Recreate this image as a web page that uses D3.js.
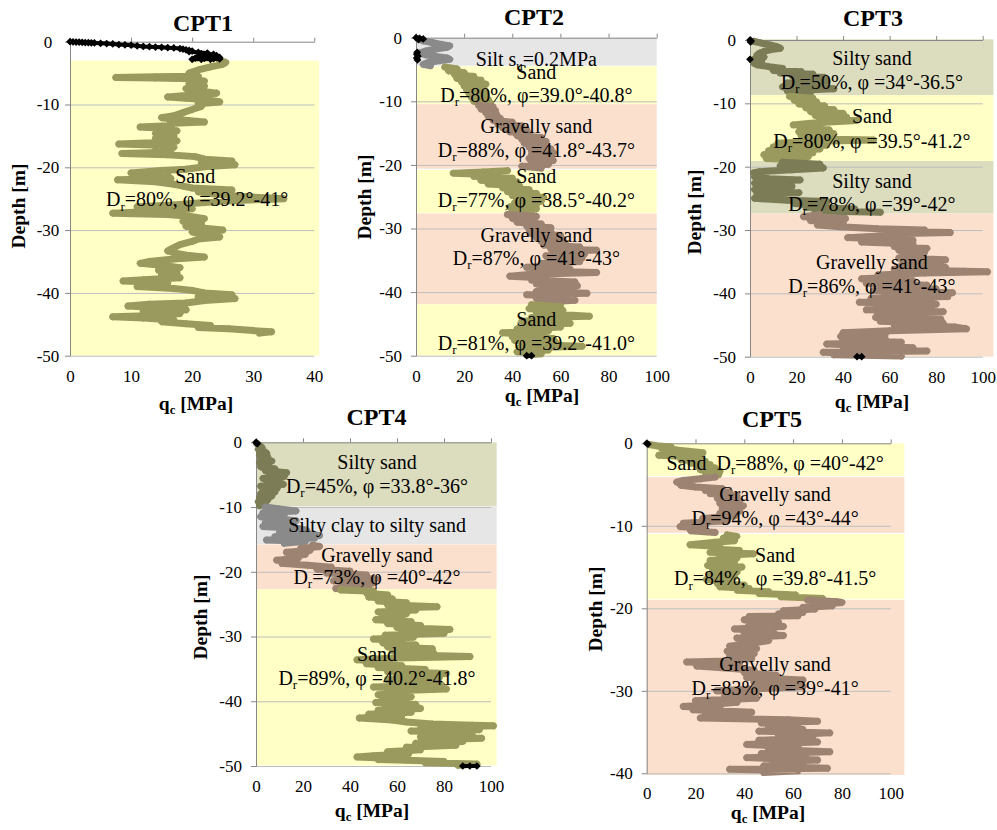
<!DOCTYPE html>
<html><head><meta charset="utf-8">
<script src="https://cdn.jsdelivr.net/npm/d3@7"></script>
<style>
body{margin:0;background:#fff}
svg text{font-family:"Liberation Serif","Times New Roman",serif;white-space:pre}
</style></head><body>
<svg id="chart" width="997" height="830"></svg>
<script>
// ---------- DATA: [depth (m), qc (MPa)] ----------
const cpt1Black = [[0,0],[-0.03,0.5],[-0.05,1],[-0.08,1.5],[-0.1,2],[-0.13,2.5],[-0.15,3],[-0.18,3.5],[-0.2,4],[-0.25,5],[-0.3,6],[-0.35,7],[-0.45,8],[-0.5,9],[-0.55,10],[-0.65,11],[-0.75,12],[-0.8,13],[-0.85,14],[-0.9,15],[-0.95,16],[-1.0,17],[-1.1,18],[-1.2,18.5],[-1.3,19],[-1.4,19.5],[-1.5,20],[-1.6,19.5],[-1.7,21],[-1.8,22.5],[-1.9,21.5],[-2.0,23.5],[-2.1,22],[-2.2,24],[-2.3,21],[-2.4,23],[-2.5,24.5],[-2.6,20.5],[-2.65,22],[-2.7,23.5],[-2.75,24.5],[-2.8,20],[-2.8,21.5],[-2.8,23]];
const cpt1Profile = [[-3.0,24.5],[-3.3,25.5],[-3.6,25],[-4.0,23],[-4.5,21],[-5.0,19.5],[-5.5,21],[-5.6,14],[-5.7,7.5],[-5.8,14],[-5.9,20],[-6.3,22],[-6.7,19.5],[-7.1,22],[-7.5,19],[-7.9,21.5],[-8.2,24],[-8.5,20],[-8.8,16],[-9.0,19],[-9.3,23],[-9.6,24.5],[-9.9,21],[-10.3,21.5],[-10.8,20],[-11.3,18.5],[-11.8,17],[-12.1,15],[-12.4,17.5],[-12.8,22],[-13.0,17],[-13.4,16],[-13.6,11.5],[-13.8,15],[-14.2,17.5],[-14.6,14],[-15.0,17],[-15.4,14],[-15.8,17.5],[-16.1,13.5],[-16.3,8],[-16.5,15],[-16.8,17],[-17.2,14],[-17.6,16.5],[-17.8,8.5],[-18.0,16],[-18.3,20.5],[-18.7,22],[-19.0,26.5],[-19.3,21.5],[-19.6,27],[-19.9,22],[-20.3,19],[-20.5,15],[-20.9,10],[-21.1,16],[-21.4,12],[-21.8,16.5],[-22.0,7.8],[-22.3,14],[-22.7,17],[-23.0,18.5],[-23.3,20],[-23.6,26.5],[-23.9,21],[-24.3,24],[-24.7,29],[-25.0,35],[-25.3,27],[-25.6,22],[-26.0,17],[-26.3,11],[-26.6,20],[-27.0,14],[-27.3,7],[-27.5,16],[-27.8,19.5],[-28.2,22],[-28.6,18.5],[-29.0,21.5],[-29.4,19],[-29.7,22],[-30.0,25],[-30.3,20],[-30.7,22.5],[-31.1,24.5],[-31.4,21],[-31.8,20],[-32.3,18],[-32.8,17],[-33.3,16],[-33.7,17.5],[-34.0,19],[-34.3,22],[-34.6,17],[-35.0,13],[-35.3,11.5],[-35.6,15],[-36.0,18],[-36.4,14.5],[-36.8,17.5],[-37.2,15],[-37.6,18],[-37.9,12],[-38.1,8.7],[-38.4,16],[-38.8,13],[-39.0,11],[-39.3,17],[-39.6,20],[-40.0,22],[-40.3,26.5],[-40.6,21],[-40.9,27],[-41.2,22],[-41.6,19],[-41.8,13],[-42.1,9.5],[-42.4,15],[-42.7,19],[-43.0,12],[-43.3,18],[-43.6,14],[-43.8,7],[-44.0,12],[-44.3,17],[-44.6,15],[-44.9,19],[-45.2,23],[-45.5,21],[-45.7,26],[-46.0,30],[-46.2,33],[-46.4,31]];
const cpt1Layers = [{soil:"sand",top:-3,bottom:-50}];
const cpt1Labels = [{t:"Sand",q:20.5,d:-22.5},{t:"D_{r}=80%, φ =39.2°-41°",q:20.8,d:-26.2}];

const cpt2Black = [[0,0],[-0.1,1.5],[-0.2,3],[-0.3,1],[-2.3,0.5],[-2.6,0.3],[-2.9,0.8],[-3.2,0.3],[-3.5,0.6],[-50,46],[-50,48]];
const cpt2Profile = [[-0.2,1],[-0.5,3],[-0.8,7],[-1.1,11],[-1.3,14],[-1.5,13],[-1.8,8],[-2.1,4],[-2.4,1.5],[-2.7,4],[-3.0,9],[-3.2,13],[-3.4,14],[-3.6,10],[-3.9,5],[-4.2,3],[-4.4,6],
[-4.6,12],[-4.9,17],[-5.2,13.5],[-5.5,20],[-5.8,16],[-6.1,24],[-6.4,17],[-6.7,27],[-7.0,19],[-7.3,29],[-7.6,20],[-7.9,28],[-8.2,21],[-8.5,29],[-8.8,22],[-9.1,29],[-9.4,23],[-9.7,30],[-10.0,24],[-10.3,31],
[-10.6,26],[-10.9,32],[-11.2,27],[-11.5,33],[-11.8,29],[-12.1,33.5],[-12.4,30],[-12.7,35],[-13.0,32],[-13.3,40],[-13.6,34],[-13.9,44],[-14.2,36],[-14.5,46],[-14.8,39],[-15.1,47],[-15.4,42],[-15.7,52],[-16.0,44],[-16.3,54],[-16.6,45],[-16.9,53],[-17.2,47],[-17.5,56],[-17.8,48],[-18.1,57],[-18.4,48],[-18.7,56],[-19.0,47],[-19.3,57],[-19.6,48],[-19.9,55],[-20.2,44],[-20.5,52],
[-20.9,38],[-21.1,28],[-21.3,15.5],[-21.5,30],[-21.8,24],[-22.1,40],[-22.4,27],[-22.7,42],[-23.0,30],[-23.3,43],[-23.6,36],[-23.9,47],[-24.2,38],[-24.5,50],[-24.8,40],[-25.1,53],[-25.4,42],[-25.7,52],[-26.0,41],[-26.3,50],[-26.6,39],[-26.9,50],[-27.2,40],[-27.5,48],
[-27.8,38],[-28.1,50],[-28.4,40],[-28.7,49],[-29.0,42],[-29.3,52],[-29.6,46],[-29.9,56],[-30.2,47],[-30.5,56],[-30.8,48],[-31.1,60],[-31.4,50],[-31.7,61],[-32.0,52],[-32.3,62],[-32.6,53],[-32.9,68],[-33.2,56],[-33.4,75],[-33.7,58],[-34.0,70],[-34.3,54],[-34.6,69],[-34.9,55],[-35.2,68],[-35.5,52],[-35.8,62],[-36.1,46],[-36.4,64],[-36.7,50],[-36.9,75],[-37.2,48],[-37.5,39],[-37.8,54],[-38.1,48],[-38.4,66],[-38.7,50],[-39.0,67],[-39.3,52],[-39.6,65],[-39.9,50],[-40.2,71],[-40.4,46],[-40.7,62],[-41.0,50],[-41.3,66],[-41.6,52],[-41.8,60],
[-42.0,48],[-42.3,60],[-42.6,47],[-42.9,61],[-43.2,50],[-43.5,58],[-43.8,72],[-44.0,48],[-44.3,62],[-44.6,44],[-44.9,64],[-45.2,45],[-45.5,60],[-45.8,42],[-46.1,55],[-46.4,36],[-46.7,53],[-47.0,40],[-47.3,57],[-47.6,41],[-47.9,58],[-48.2,44],[-48.5,69],[-48.8,43],[-49.1,55],[-49.4,42],[-49.7,52],[-49.9,46]];
const cpt2Layers = [{soil:"silt",top:0,bottom:-4.4},{soil:"sand",top:-4.5,bottom:-10.4},{soil:"gravel",top:-10.45,bottom:-20.6},{soil:"sand",top:-20.8,bottom:-27.6},{soil:"gravel",top:-27.65,bottom:-41.9},{soil:"sand",top:-41.9,bottom:-50}];
const cpt2Labels = [{t:"Silt s_{u}=0.2MPa",q:50,d:-4.45},{t:"Sand",q:50,d:-6.5},{t:"D_{r}=80%, φ=39.0°-40.8°",q:50,d:-10.1},{t:"Gravelly sand",q:50,d:-15.0},{t:"D_{r}=88%, φ =41.8°-43.7°",q:50,d:-18.75},{t:"Sand",q:50,d:-22.85},{t:"D_{r}=77%, φ =38.5°-40.2°",q:50,d:-26.6},{t:"Gravelly sand",q:50,d:-32.1},{t:"D_{r}=87%, φ =41°-43°",q:50,d:-35.75},{t:"Sand",q:50,d:-45.3},{t:"D_{r}=81%, φ =39.2°-41.0°",q:50,d:-49.1}];

const cpt3Black = [[0,0],[-0.15,0.5],[-0.3,0.2],[-3.05,0],[-50,46],[-50,48]];
const cpt3Profile = [[-0.2,1.5],[-0.5,5],[-0.8,9],[-1.05,11.5],[-1.3,13],[-1.5,9],[-1.8,6],[-2.1,4],[-2.4,3],[-2.7,6],[-3.0,2],[-3.3,5],[-3.6,1.5],[-3.9,3],[-4.2,8],[-4.5,14],[-4.8,10],[-5.0,22],[-5.2,13],[-5.4,27],[-5.6,18],[-5.9,32],[-6.2,20],[-6.5,33],[-6.8,16],[-7.1,30],[-7.4,14],[-7.7,36],[-8.0,16],[-8.3,26],[-8.6,18],
[-8.9,17],[-9.2,27],[-9.5,19],[-9.8,28.6],[-10.1,21],[-10.4,32],[-10.7,24],[-11.0,36],[-11.3,26],[-11.6,40],[-11.9,28],[-12.2,41.5],[-12.5,30],[-12.7,46],[-13.0,32],[-13.2,25],[-13.4,18.6],[-13.6,30],[-13.9,22],[-14.2,34],[-14.5,21],[-14.8,36],[-15.1,22],[-15.4,33],[-15.6,24],[-15.8,53],[-16.0,30],[-16.3,12],[-16.6,33],[-16.9,10],[-17.2,30],[-17.5,8],[-17.8,27],[-18.1,6],[-18.4,25],[-18.7,7],[-18.9,20],
[-19.3,14],[-19.6,30],[-19.9,13],[-20.2,31.5],[-20.5,18],[-20.8,4],[-21.0,1.5],[-21.3,4],[-21.6,2],[-21.9,8],[-22.1,21.5],[-22.3,4],[-22.6,2],[-22.9,5],[-23.1,18],[-23.3,3],[-23.6,2],[-23.9,6],[-24.1,21],[-24.3,3],[-24.7,8],[-25.0,2],[-25.3,16],[-25.5,33],[-25.8,19],[-26.1,31],[-26.4,24],[-26.7,45],[-27.0,28],[-27.2,56],
[-27.6,30],[-27.9,23],[-28.2,41],[-28.5,26],[-28.9,40],[-29.2,29],[-29.5,38.7],[-29.8,55],[-30.0,75],[-30.2,60],[-30.4,86],[-30.6,62],[-30.9,58],[-31.2,42],[-31.6,70],[-31.9,48],[-32.2,70],[-32.6,62],[-32.9,76],[-33.2,64],[-33.5,75],[-33.8,66],[-34.1,72],[-34.4,64],[-34.7,84],[-35.0,66],[-35.3,82],[-35.6,65],[-35.9,84],[-36.2,62],[-36.5,92],[-36.6,102],[-36.8,75],[-37.1,55],[-37.4,64],[-37.7,48],[-38.0,70],[-38.4,50],[-38.7,76],[-39.0,56],[-39.3,80],[-39.6,53],[-39.9,87],[-40.2,58],[-40.5,85],[-40.8,52],[-41.1,78],[-41.4,47],[-41.7,80],[-42.0,55],[-42.3,78],[-42.6,50],[-42.9,83],[-43.2,55],[-43.5,72],[-43.8,54],[-44.1,82],[-44.4,56],[-44.7,83],[-45.0,62],[-45.3,88],[-45.6,93],[-45.9,60],[-46.2,40],[-46.5,58],[-46.8,39],[-47.1,58],[-47.4,40],[-47.7,65],[-48.0,33],[-48.3,55],[-48.6,70],[-48.9,40],[-49.1,76],[-49.3,31.5],[-49.5,47],[-49.7,36],[-49.9,65]];
const cpt3Layers = [{soil:"silty",top:0.1,bottom:-8.7},{soil:"sand",top:-8.7,bottom:-19.1},{soil:"silty",top:-19.1,bottom:-27.4},{soil:"gravel",top:-27.4,bottom:-50}];
const cpt3Labels = [{t:"Silty sand",q:52.4,d:-3.95},{t:"D_{r}=50%, φ =34°-36.5°",q:52.4,d:-7.75},{t:"Sand",q:52.4,d:-13.1},{t:"D_{r}=80%, φ =39.5°-41.2°",q:52.4,d:-17.05},{t:"Silty sand",q:52.4,d:-23.4},{t:"D_{r}=78%, φ =39°-42°",q:52.4,d:-27.0},{t:"Gravelly sand",q:52.4,d:-36.15},{t:"D_{r}=86%, φ =41°-43°",q:52.4,d:-39.95}];

const cpt4Black = [[0,0],[-0.1,0.3],[-0.2,0.6],[-50,88],[-50,91],[-50,94]];
const cpt4Profile = [[-0.2,0.3],[-0.5,1.5],[-0.8,2.5],[-1.1,1],[-1.4,3.5],[-1.7,4.5],[-2.0,1.5],[-2.3,5],[-2.6,2],[-2.9,6.7],[-3.2,1.5],[-3.5,5],[-3.8,2],[-4.1,8],[-4.4,4],[-4.7,13],[-5.0,6],[-5.3,12],[-5.6,3],[-5.9,10],[-6.2,5],[-6.5,11.6],[-6.8,2],[-7.1,9],[-7.4,3],[-7.7,8],[-8.0,2],[-8.3,6.7],[-8.6,1.5],[-8.9,5],[-9.2,1],[-9.5,4],[-9.8,1.5],
[-10.0,4],[-10.3,10],[-10.6,17],[-10.9,3],[-11.2,12],[-11.5,2],[-11.8,9],[-12.1,17],[-12.4,4],[-12.7,14],[-13.0,3],[-13.3,18],[-13.6,21.6],[-13.9,10],[-14.2,23],[-14.4,27],[-14.6,8],[-14.8,25],[-15.1,4.5],[-15.3,21],[-15.6,12],
[-15.9,24],[-16.1,27],[-16.4,19],[-16.7,23],[-17.0,13],[-17.3,21],[-17.6,15],[-17.9,18],[-18.2,8.8],[-18.5,17],[-18.7,11],[-19.0,22],[-19.3,32],[-19.6,26],[-19.9,40],[-20.2,30],[-20.5,47],[-20.8,35],[-21.1,51],[-21.4,33],[-21.7,50],[-22.0,36],[-22.3,48],[-22.6,34],
[-22.8,36],[-23.0,50],[-23.3,47],[-23.6,56],[-23.9,48],[-24.2,58],[-24.5,52],[-24.8,64],[-25.1,56],[-25.4,77],[-25.6,58],[-25.9,68],[-26.2,52],[-26.5,64],[-26.8,54],[-27.1,62],[-27.4,51],[-27.7,66],[-28.0,56],[-28.3,70],[-28.6,60],[-28.9,82.5],[-29.2,62],[-29.5,80],[-29.8,55],[-30.1,67],[-30.4,50],[-30.7,62],[-31.0,54],[-31.3,68],[-31.6,56],[-31.9,75],[-32.2,58],[-32.5,75.5],[-32.8,62],[-33.1,91],[-33.3,60],[-33.6,43],[-33.9,56],[-34.2,47],[-34.5,62],[-34.8,52],[-35.1,72],[-35.4,56],[-35.7,81],[-36.0,60],[-36.3,78],[-36.6,56],[-36.9,74],[-37.2,60],[-37.5,79],[-37.8,50],[-38.1,81],[-38.4,56],[-38.7,64],[-39.0,52],[-39.3,66],[-39.6,54],[-39.9,64],[-40.2,51],[-40.5,68],[-40.8,55],[-41.1,70],[-41.4,52],[-41.7,66],[-42.0,48],[-42.3,62],[-42.6,44],[-42.9,58],[-43.2,64],[-43.5,75],[-43.7,92],[-43.8,101],[-44.0,80],[-44.2,70],[-44.4,95],[-44.6,66],[-44.8,86],[-45.0,78],[-45.2,92],[-45.5,70],[-45.7,96],[-46.0,72],[-46.2,88],[-46.5,68],[-46.8,85],[-47.1,64],[-47.5,70],[-47.8,56],[-48.1,65],[-48.4,50],[-48.6,43],[-48.8,56],[-49.0,52],[-49.1,64],[-49.3,80],[-49.5,72],[-49.7,94],[-49.9,86]];
const cpt4Layers = [{soil:"silty",top:0,bottom:-9.9},{soil:"silt",top:-9.95,bottom:-15.75},{soil:"gravel",top:-15.8,bottom:-22.7},{soil:"sand",top:-22.7,bottom:-49.9}];
const cpt4Labels = [{t:"Silty sand",q:51.5,d:-4.12},{t:"D_{r}=45%, φ =33.8°-36°",q:51.5,d:-7.83},{t:"Silty clay to silty sand",q:51.5,d:-13.85},{t:"Gravelly sand",q:51.5,d:-18.5},{t:"D_{r}=73%, φ =40°-42°",q:51.5,d:-21.9},{t:"Sand",q:51.5,d:-33.8},{t:"D_{r}=89%, φ =40.2°-41.8°",q:51.5,d:-37.5}];

const cpt5Black = [[0,0],[-0.1,0.5]];
const cpt5Profile = [[-0.15,1],[-0.3,4],[-0.45,10],[-0.6,6],[-0.8,12],[-1.0,18],[-1.15,23],[-1.3,14],[-1.45,5],[-1.6,16],[-1.8,22],[-2.0,14],[-2.2,24],[-2.4,18],[-2.6,26],[-2.8,21],[-3.0,28],[-3.2,22],[-3.4,30],[-3.6,24],[-3.8,29.5],
[-4.1,28],[-4.3,22],[-4.5,15],[-4.7,12.3],[-4.9,18],[-5.1,14],[-5.3,20],[-5.5,31],[-5.7,24],[-5.9,34],[-6.1,26],[-6.4,37],[-6.7,29],[-7.0,38],[-7.3,30],[-7.6,39.6],[-7.9,31],[-8.2,38],[-8.5,30],[-8.8,36],[-9.1,23],[-9.4,33],[-9.7,15],[-9.9,24],[-10.1,13.7],[-10.3,22],[-10.6,18],[-10.8,28],
[-11.1,33],[-11.3,36.9],[-11.5,31.4],[-11.8,36],[-12.0,28],[-12.3,17.8],[-12.5,30],[-12.8,27],[-13.0,38],[-13.2,26],[-13.4,43.7],[-13.6,30],[-13.9,37],[-14.2,26],[-14.5,36],[-14.8,25],[-15.0,39],[-15.3,27],[-15.6,37],[-15.9,26],[-16.2,36],[-16.5,24.5],[-16.8,34],[-17.0,29],[-17.2,40],[-17.4,30],[-17.6,42],[-17.8,37],[-18.0,50],[-18.2,46],[-18.4,61],[-18.6,55],[-18.8,72],
[-19.0,66],[-19.2,78],[-19.3,80],[-19.5,72],[-19.7,76],[-19.9,64],[-20.1,69],[-20.3,56],[-20.5,64],[-20.7,54],[-20.9,62],[-21.0,42],[-21.2,53],[-21.4,40],[-21.7,54],[-22.0,42],[-22.2,56],[-22.5,36],[-22.8,52],[-23.0,40],[-23.3,56],[-23.6,37],[-23.9,50],[-24.2,44],[-24.6,34],[-24.9,45],[-25.2,33],[-25.5,44],[-25.8,34],[-26.1,43],[-26.4,33],[-26.5,16.4],[-26.7,38],[-27.0,20.5],[-27.2,31],[-27.5,44],[-27.8,40],[-28.1,53],[-28.4,41],[-28.7,64],[-29.0,44],[-29.3,58],[-29.5,64],[-29.8,42],[-30.0,28.7],[-30.3,45],[-30.6,32],[-30.9,45],[-31.2,20],[-31.4,37],[-31.7,25],[-31.9,15],[-32.1,30],[-32.3,19],[-32.6,43],[-32.8,24],[-33.1,37],[-33.3,22],[-33.5,58],[-33.7,70],[-33.9,47],[-34.1,62],[-34.4,50],[-34.7,64],[-34.9,46],[-35.1,75],[-35.4,54],[-35.7,68],[-36.0,46],[-36.2,70],[-36.5,41],[-36.8,62],[-37.1,50],[-37.4,75],[-37.6,47],[-37.9,65],[-38.1,41],[-38.4,70],[-38.6,52],[-38.9,64],[-39.1,48],[-39.4,74],[-39.5,34],[-39.7,62],[-39.9,48]];
const cpt5Layers = [{soil:"sand",top:0,bottom:-3.95},{soil:"gravel",top:-4.1,bottom:-10.85},{soil:"sand",top:-11.0,bottom:-18.9},{soil:"gravel",top:-19.0,bottom:-40.2}];
const cpt5Labels = [{t:"Sand  D_{r}=88%, φ =40°-42°",q:52.6,d:-3.24},{t:"Gravelly sand",q:52.6,d:-7.0},{t:"D_{r}=94%, φ =43°-44°",q:52.6,d:-9.9},{t:"Sand",q:52.6,d:-14.4},{t:"D_{r}=84%,  φ =39.8°-41.5°",q:52.6,d:-17.2},{t:"Gravelly sand",q:52.6,d:-27.6},{t:"D_{r}=83%, φ =39°-41°",q:52.6,d:-30.5}];

// ---------- STYLE / LAYOUT ----------
const soilFill = {sand:"#FFFFC6", gravel:"#FCE0CE", silt:"#E6E6E6", silty:"#DCDCBE"};
const soilPoint = {sand:"#9A9A5E", gravel:"#9C8372", silt:"#8A8A8A", silty:"#7C7C57"};

const panels = [
 {title:"CPT1", profile:cpt1Profile, black:cpt1Black, layers:cpt1Layers, labels:cpt1Labels, xMax:40, xStep:10, yMin:-50, bandMax:40.8,
  x0:70, x1:314.3, y0:41.7, y1:355.7, titleX:203, titleY:31, xLabX:196, xLabY:410, yLabX:18.5, yLabY:206, yTickMiddle:48},
 {title:"CPT2", profile:cpt2Profile, black:cpt2Black, layers:cpt2Layers, labels:cpt2Labels, xMax:100, xStep:20, yMin:-50, bandMax:100,
  x0:416, x1:656.7, y0:37.7, y1:355.7, titleX:534, titleY:25, xLabX:542, xLabY:402, yLabX:364.5, yLabY:197},
 {title:"CPT3", profile:cpt3Profile, black:cpt3Black, layers:cpt3Layers, labels:cpt3Labels, xMax:100, xStep:20, yMin:-50, bandMax:104.6,
  x0:750, x1:982.7, y0:40, y1:356.7, titleX:873, titleY:26, xLabX:872, xLabY:408, yLabX:694, yLabY:212},
 {title:"CPT4", profile:cpt4Profile, black:cpt4Black, layers:cpt4Layers, labels:cpt4Labels, xMax:100, xStep:20, yMin:-50, bandMax:102.4,
  x0:256, x1:491, y0:442.3, y1:766, titleX:376.5, titleY:425, xLabX:372, xLabY:817, yLabX:200.5, yLabY:617},
 {title:"CPT5", profile:cpt5Profile, black:cpt5Black, layers:cpt5Layers, labels:cpt5Labels, xMax:100, xStep:20, yMin:-40, bandMax:105.6,
  x0:646.7, x1:890.7, y0:443.3, y1:773.3, titleX:772, titleY:426.7, xLabX:768, xLabY:819, yLabX:595.5, yLabY:609}
];

const svg = d3.select("#chart");
const axisColor = "#868686";

function richText(sel, str, size){
  const parts = str.split(/(_\{[^}]*\})/);
  let sub = false;
  parts.forEach(p=>{
    if(!p) return;
    if(p.startsWith("_{")){
      sel.append("tspan").attr("dy", size*0.22).attr("font-size", size*0.65).text(p.slice(2,-1));
      sub = true;
    } else {
      const t = sel.append("tspan").text(p);
      if(sub){ t.attr("dy", -size*0.22); sub = false; }
    }
  });
}

function layerIndex(layers, d){
  for(let i=0;i<layers.length;i++){ if(d >= layers[i].bottom) return i; }
  return layers.length-1;
}

// split a point list into runs of closely spaced readings
function runs(pts){
  const out = [];
  pts.forEach((p,i)=>{
    if(i===0 || Math.abs(p[0]-pts[i-1][0]) > 0.5) out.push([p]);
    else out[out.length-1].push(p);
  });
  return out;
}

const diamond = d3.symbol().type(d3.symbolSquare).size(30);

panels.forEach(P=>{
  const x = d3.scaleLinear().domain([0,P.xMax]).range([P.x0,P.x1]);
  const y = d3.scaleLinear().domain([0,P.yMin]).range([P.y0,P.y1]);
  const g = svg.append("g");
  const xTicks = d3.range(0, P.xMax+0.001, P.xStep);
  const yTicks = d3.range(0, P.yMin-0.001, -10);

  // bands
  g.selectAll("rect.band").data(P.layers).join("rect")
    .attr("x", x(0)).attr("width", x(P.bandMax)-x(0))
    .attr("y", d=>y(d.top)).attr("height", d=>y(d.bottom)-y(d.top))
    .attr("fill", d=>soilFill[d.soil]);

  // gridlines
  const grid = g.append("g").attr("transform",`translate(${P.x0},0)`)
    .call(d3.axisRight(y).tickValues(yTicks.filter(v=>v!==0)).tickSize(P.x1-P.x0).tickFormat(""));
  grid.select(".domain").remove();
  grid.selectAll("line").attr("stroke","#BDBDBD").attr("stroke-width",1);

  // top axis (line with upward ticks)
  const top = g.append("g").attr("transform",`translate(0,${P.y0})`)
    .call(d3.axisTop(x).tickValues(xTicks).tickSize(4).tickSizeOuter(0).tickFormat(""));
  top.selectAll("path,line").attr("stroke",axisColor);

  // bottom tick labels
  const bot = g.append("g").attr("transform",`translate(0,${P.y1})`)
    .call(d3.axisBottom(x).tickValues(xTicks).tickSize(0).tickPadding(14).tickFormat(d=>String(d)));
  bot.select(".domain").remove();
  bot.attr("font-family",null).attr("font-size",17);
  bot.selectAll("text").attr("fill","#000");

  // left axis
  const left = g.append("g").attr("transform",`translate(${P.x0},0)`)
    .call(d3.axisLeft(y).tickValues(yTicks).tickSize(5).tickSizeOuter(0).tickPadding(9).tickFormat(d=>String(d)));
  left.selectAll("path,line").attr("stroke",axisColor);
  left.attr("font-family",null).attr("font-size",17);
  left.selectAll("text").attr("fill","#000");
  if(P.yTickMiddle !== undefined){
    left.selectAll("text").attr("text-anchor","middle").attr("x", P.yTickMiddle - P.x0);
  }

  // profile lines and points by layer
  const line = d3.line().x(p=>x(p[1])).y(p=>y(p[0]));
  P.layers.forEach((L,i)=>{
    const pts = P.profile.filter(p=>layerIndex(P.layers,p[0])===i);
    const col = soilPoint[L.soil];
    g.append("path").datum(pts).attr("d",line).attr("fill","none")
      .attr("stroke",col).attr("stroke-width",7).attr("stroke-linejoin","round").attr("stroke-linecap","round");
    g.append("g").selectAll("path").data(pts).join("path")
      .attr("d",diamond).attr("fill",col)
      .attr("transform",p=>`translate(${x(p[1])},${y(p[0])}) rotate(45)`);
  });
  // black readings
  runs(P.black).forEach(r=>{
    if(r.length>1){
      g.append("path").datum(r).attr("d",line).attr("fill","none")
        .attr("stroke","#000").attr("stroke-width",4).attr("stroke-linejoin","round").attr("stroke-linecap","round");
    }
  });
  g.append("g").selectAll("path").data(P.black).join("path")
    .attr("d",diamond).attr("fill","#000")
    .attr("transform",p=>`translate(${x(p[1])},${y(p[0])}) rotate(45)`);

  // layer labels
  P.labels.forEach(l=>{
    const t = g.append("text").attr("x",x(l.q)).attr("y",y(l.d))
      .attr("text-anchor","middle").attr("font-size",20).attr("fill","#000");
    richText(t, l.t, 20);
  });

  // title
  g.append("text").attr("x",P.titleX).attr("y",P.titleY).attr("text-anchor","middle")
    .attr("font-size",24).attr("font-weight","bold").text(P.title);
  // x label
  const xl = g.append("text").attr("x",P.xLabX).attr("y",P.xLabY).attr("text-anchor","middle")
    .attr("font-size",19.5).attr("font-weight","bold");
  richText(xl, "q_{c} [MPa]", 19.5);
  // y label
  g.append("text").attr("transform",`translate(${P.yLabX},${P.yLabY}) rotate(-90)`)
    .attr("text-anchor","middle").attr("dy","0.35em")
    .attr("font-size",19.5).attr("font-weight","bold").text("Depth [m]");
});
</script>
</body></html>
